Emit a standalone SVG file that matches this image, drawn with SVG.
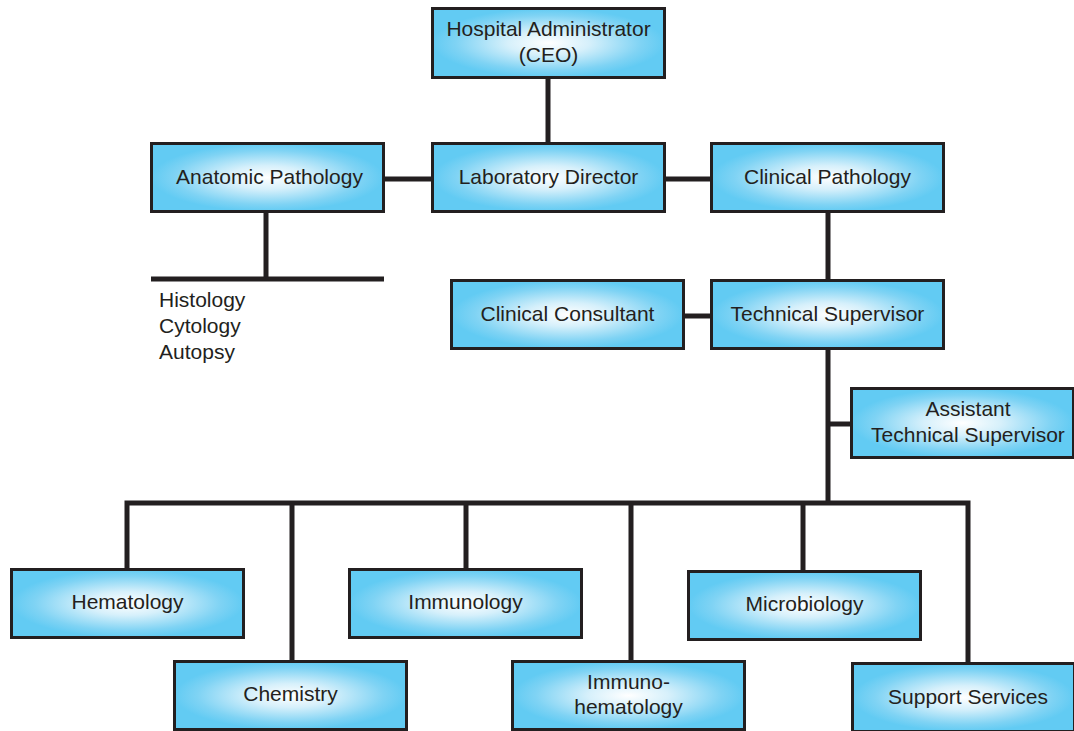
<svg xmlns="http://www.w3.org/2000/svg" width="1074" height="731" viewBox="0 0 1074 731">
<defs>
<radialGradient id="g" cx="50%" cy="50%" r="50%">
<stop offset="0" stop-color="#ffffff"/>
<stop offset="0.35" stop-color="#d6f0fb"/>
<stop offset="0.8" stop-color="#7fd3f4"/>
<stop offset="1" stop-color="#62cbf3"/>
</radialGradient>
<style>
.box{fill:url(#g);stroke:#231f20;stroke-width:3}
.t{font-family:"Liberation Sans",Arial,sans-serif;font-size:21px;fill:#231f20;text-anchor:middle}
.l{font-family:"Liberation Sans",Arial,sans-serif;font-size:21px;fill:#231f20}
.c{stroke:#231f20;stroke-width:5;fill:none}
</style>
</defs>
<rect width="1074" height="731" fill="#ffffff"/>
<g id="connectors">
<line class="c" x1="548" y1="78" x2="548" y2="143"/>
<line class="c" x1="384" y1="179" x2="432" y2="179"/>
<line class="c" x1="665" y1="179" x2="711" y2="179"/>
<line class="c" x1="828" y1="212" x2="828" y2="280"/>
<line class="c" x1="684" y1="316" x2="711" y2="316"/>
<line class="c" x1="266" y1="212" x2="266" y2="279"/>
<line class="c" x1="151" y1="279" x2="384" y2="279"/>
<line class="c" x1="828" y1="349" x2="828" y2="503"/>
<line class="c" x1="828" y1="424" x2="851" y2="424"/>
<polyline class="c" points="127,569 127,503 968,503 968,663"/>
<line class="c" x1="292" y1="503" x2="292" y2="661"/>
<line class="c" x1="466" y1="503" x2="466" y2="569"/>
<line class="c" x1="631" y1="503" x2="631" y2="661"/>
<line class="c" x1="803" y1="503" x2="803" y2="571"/>
</g>
<g id="ceo"><rect class="box" x="432.5" y="8.5" width="232" height="69"/><text class="t" x="548.5" y="36">Hospital Administrator</text><text class="t" x="548.5" y="62">(CEO)</text></g>
<g id="lab-director"><rect class="box" x="432.5" y="143.5" width="232" height="68"/><text class="t" x="548.5" y="184">Laboratory Director</text></g>
<g id="anatomic-pathology"><rect class="box" x="151.5" y="143.5" width="232" height="68"/><text class="t" x="269.5" y="184">Anatomic Pathology</text></g>
<g id="clinical-pathology"><rect class="box" x="711.5" y="143.5" width="232" height="68"/><text class="t" x="827.5" y="184">Clinical Pathology</text></g>
<g id="anatomic-list"><text class="l" x="159" y="307">Histology</text><text class="l" x="159" y="333">Cytology</text><text class="l" x="159" y="359">Autopsy</text></g>
<g id="clinical-consultant"><rect class="box" x="451.5" y="280.5" width="232" height="68"/><text class="t" x="567.5" y="321">Clinical Consultant</text></g>
<g id="technical-supervisor"><rect class="box" x="711.5" y="280.5" width="232" height="68"/><text class="t" x="827.5" y="321">Technical Supervisor</text></g>
<g id="assistant-ts"><rect class="box" x="851.5" y="388.5" width="222" height="69"/><text class="t" x="968" y="416">Assistant</text><text class="t" x="968" y="442">Technical Supervisor</text></g>
<g id="hematology"><rect class="box" x="11.5" y="569.5" width="232" height="68"/><text class="t" x="127.5" y="609">Hematology</text></g>
<g id="chemistry"><rect class="box" x="174.5" y="661.5" width="232" height="68"/><text class="t" x="290.5" y="701">Chemistry</text></g>
<g id="immunology"><rect class="box" x="349.5" y="569.5" width="232" height="68"/><text class="t" x="465.5" y="609">Immunology</text></g>
<g id="immunohematology"><rect class="box" x="512.5" y="661.5" width="232" height="68"/><text class="t" x="628.5" y="689">Immuno-</text><text class="t" x="628.5" y="714">hematology</text></g>
<g id="microbiology"><rect class="box" x="688.5" y="571.5" width="232" height="68"/><text class="t" x="804.5" y="611">Microbiology</text></g>
<g id="support-services"><rect class="box" x="852.5" y="663.5" width="222" height="68"/><text class="t" x="968" y="704">Support Services</text></g>
</svg>
